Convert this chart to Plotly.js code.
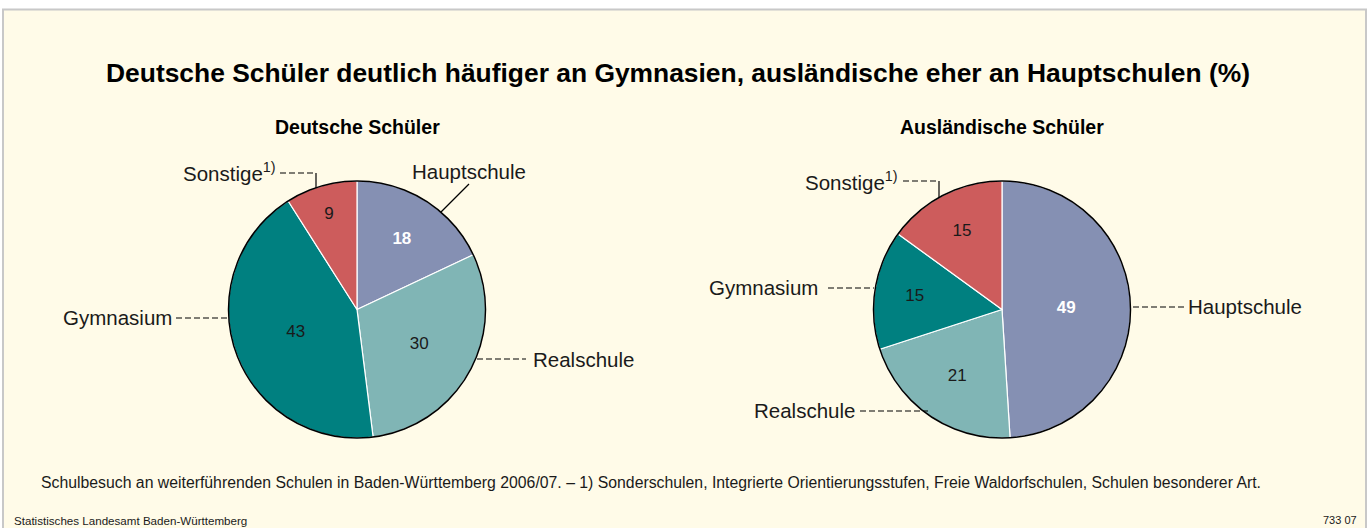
<!DOCTYPE html>
<html>
<head>
<meta charset="utf-8">
<script src="https://cdn.plot.ly/plotly-3.0.1.min.js"></script>
<style>
html,body{margin:0;padding:0;background:#fff;}
#chart{width:1370px;height:528px;}
</style>
</head>
<body>
<div id="chart"></div>
<script>
// ---- Data ----
const schoolTypes = ["Hauptschule", "Realschule", "Gymnasium", "Sonstige"];
const germanShares = [18, 30, 43, 9];
const foreignTypes = ["Hauptschule", "Realschule", "Gymnasium", "Sonstige"];
const foreignShares = [49, 21, 15, 15];
const sliceColors = ["#8590b3", "#80b5b5", "#008080", "#cd5c5c"];
const labelTexts = ["Hauptschule", "Realschule", "Gymnasium", "Sonstige<sup>1)</sup>"];
const mainTitle = "Deutsche Schüler deutlich häufiger an Gymnasien, ausländische eher an Hauptschulen (%)";
const subTitles = ["Deutsche Schüler", "Ausländische Schüler"];
const footnote = "Schulbesuch an weiterführenden Schulen in Baden-Württemberg 2006/07. – 1) Sonderschulen, Integrierte Orientierungsstufen, Freie Waldorfschulen, Schulen besonderer Art.";
const sourceText = "Statistisches Landesamt Baden-Württemberg";
const chartId = "733 07";

// ---- Geometry helpers (pixel -> paper) ----
const W = 1370, H = 528;
const px = x => x / W;
const py = y => 1 - y / H;
const R = 128.5;
const leftC = [357, 309.5];
const rightC = [1002, 309.5];
function dom(c) {
  return { x: [px(c[0] - R), px(c[0] + R)], y: [py(c[1] + R), py(c[1] - R)] };
}
const FONT = "Liberation Sans, Arial, sans-serif";
const DASH = "6px,3px";

function pieTrace(labels, values, c) {
  return {
    type: "pie",
    labels: labels,
    values: values,
    sort: false,
    direction: "clockwise",
    rotation: 0,
    domain: dom(c),
    marker: { colors: sliceColors, line: { color: "#ffffff", width: 1.2 } },
    textinfo: "value",
    texttemplate: ["<b>%{value}</b>", "%{value}", "%{value}", "%{value}"],
    textposition: "inside",
    insidetextorientation: "horizontal",
    insidetextfont: { family: FONT, size: 17, color: ["#ffffff", "#1a1a1a", "#1a1a1a", "#1a1a1a"] },
    hoverinfo: "label+value",
    showlegend: false
  };
}

const data = [
  pieTrace(schoolTypes, germanShares, leftC),
  pieTrace(foreignTypes, foreignShares, rightC)
];

function seg(x0, y0, x1, y1, dash) {
  return { type: "line", xref: "paper", yref: "paper", x0: px(x0), x1: px(x1), y0: py(y0), y1: py(y1),
           line: { color: "#000", width: 1.2, dash: dash || DASH } };
}
function hline(x0, x1, y) { return seg(x0, y, x1, y); }
function circ(c) {
  const d = dom(c);
  return { type: "circle", xref: "paper", yref: "paper", x0: d.x[0], x1: d.x[1], y0: d.y[0], y1: d.y[1],
           line: { color: "#000", width: 1.5 }, fillcolor: "rgba(0,0,0,0)" };
}

const shapes = [
  // outer beige frame
  { type: "rect", xref: "paper", yref: "paper", x0: px(3), x1: px(1366), y0: py(529), y1: py(9.5),
    fillcolor: "#fffbe8", line: { color: "#c8c8c8", width: 2 }, layer: "below" },
  circ(leftC), circ(rightC),
  // left pie leaders
  hline(280, 316, 173), seg(316, 173, 316, 188, "solid"),
  hline(176, 229, 318),
  hline(477, 526, 359),
  seg(441, 212, 469, 184, "solid"),
  // right pie leaders
  hline(903, 939, 181), seg(939, 181, 939, 198, "solid"),
  hline(828, 874, 288),
  hline(1133, 1184, 307),
  hline(860, 928, 411)
];

function ann(text, x, y, xanchor, size, opts) {
  return Object.assign({ text: text, x: px(x), y: py(y), xref: "paper", yref: "paper",
    xanchor: xanchor, yanchor: "middle", showarrow: false,
    font: { family: FONT, size: size, color: "#1a1a1a" } }, opts || {});
}

const LS = 20.5;
const annotations = [
  ann("<b>" + subTitles[0] + "</b>", 357, 127, "center", 19.5, { font: { family: FONT, size: 19.5, color: "#000" } }),
  ann("<b>" + subTitles[1] + "</b>", 1002, 127, "center", 19.5, { font: { family: FONT, size: 19.5, color: "#000" } }),
  // left pie labels
  ann(labelTexts[3], 278, 172, "right", LS),
  ann(labelTexts[0], 410, 172, "left", LS),
  ann(labelTexts[2], 174, 317, "right", LS),
  ann(labelTexts[1], 531, 359, "left", LS),
  // right pie labels
  ann(labelTexts[3], 900, 181, "right", LS),
  ann(labelTexts[2], 820, 287, "right", LS),
  ann(labelTexts[0], 1186, 306, "left", LS),
  ann(labelTexts[1], 857, 410, "right", LS),
  // footnotes
  ann(footnote, 39, 482, "left", 15.8),
  ann(sourceText, 12, 520, "left", 11.6),
  ann(chartId, 1359, 520, "right", 11)
];

const layout = {
  width: W, height: H,
  margin: { l: 0, r: 0, t: 0, b: 0 },
  paper_bgcolor: "#ffffff",
  plot_bgcolor: "rgba(0,0,0,0)",
  font: { family: FONT, color: "#1a1a1a" },
  title: { text: "<b>" + mainTitle + "</b>", x: px(678), xanchor: "center", y: py(73), yanchor: "middle", yref: "paper",
           font: { family: FONT, size: 26.4, color: "#000" } },
  shapes: shapes,
  annotations: annotations,
  showlegend: false
};

Plotly.newPlot("chart", data, layout, { displayModeBar: false, staticPlot: true });
</script>
</body>
</html>
